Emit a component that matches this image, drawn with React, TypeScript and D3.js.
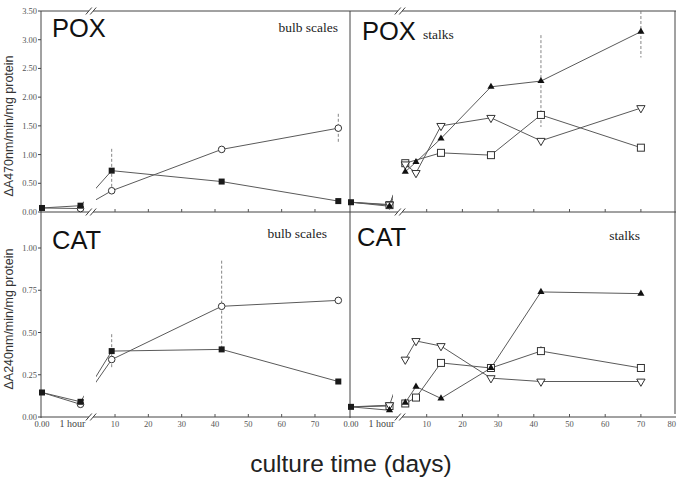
import React, { useEffect, useRef } from 'react'
import * as d3 from 'd3'

const W = 677
const H = 480

// axis labels
const preLabels = ['0.00', '1 hour']
const dayTicksLeft = [10, 20, 30, 40, 50, 60, 70]
const dayTicksRight = [10, 20, 30, 40, 50, 60, 70, 80]
const poxTicks = [0, 0.5, 1, 1.5, 2, 2.5, 3, 3.5]
const catTicks = [0, 0.25, 0.5, 0.75, 1]

// sampling days
const bulbDays = [9, 42, 77]
const stalkDays = [4, 7, 14, 28, 42, 70]

// POX, bulb scales  (pre = [0.00, 1 hour])
const poxBulbSquarePre = [0.07, 0.11]
const poxBulbSquare = [0.72, 0.53, 0.19]
const poxBulbSquareErr = [0.38, 0, 0]
const poxBulbCirclePre = [0.07, 0.06]
const poxBulbCircle = [0.37, 1.09, 1.46]
const poxBulbCircleErr = [0, 0, 0.25]

// POX, stalks
const poxStalkTrianglePre = [0.17, 0.10]
const poxStalkTriangle = [0.70, 0.87, 1.28, 2.18, 2.28, 3.14]
const poxStalkTriangleErr = [0, 0, 0, 0, 0.8, 0.45]
const poxStalkVPre = [0.17, 0.13]
const poxStalkV = [0.83, 0.68, 1.50, 1.64, 1.24, 1.81]
const poxStalkSquarePre = [0.17, 0.12]
const poxStalkSquare = [0.85, null, 1.03, 0.99, 1.69, 1.12]

// CAT, bulb scales
const catBulbSquarePre = [0.145, 0.09]
const catBulbSquare = [0.39, 0.40, 0.21]
const catBulbSquareErr = [0.1, 0, 0]
const catBulbCirclePre = [0.145, 0.075]
const catBulbCircle = [0.34, 0.655, 0.69]
const catBulbCircleErr = [0, 0.27, 0]

// CAT, stalks
const catStalkTrianglePre = [0.06, 0.04]
const catStalkTriangle = [0.085, 0.18, 0.11, 0.29, 0.74, 0.73]
const catStalkSquarePre = [0.06, 0.065]
const catStalkSquare = [0.08, 0.115, 0.32, 0.29, 0.39, 0.29]
const catStalkSquareErr = [0, 0, 0, 0, 0.03, 0]
const catStalkVPre = [0.06, 0.07]
const catStalkV = [0.34, 0.45, 0.42, 0.23, 0.21, 0.21]

type Series = { pre: number[], values: (number | null)[], err?: number[], symbol: string }

const SANS = '"Liberation Sans", Arial, sans-serif'
const SERIF = '"Liberation Serif", "Times New Roman", serif'
const LINE = '#5a5a5a'

const cols = [
  { axis: 41, right: 350, dayRange: [81.7, 348.3], ticks: dayTicksLeft },
  { axis: 350, right: 675, dayRange: [391, 676.6], ticks: dayTicksRight }
]
const rows = [
  { top: 11, bottom: 212, y: d3.scaleLinear().domain([0, 3.5]).range([212, 11]), ticks: poxTicks, title: 'ΔA470nm/min/mg protein', titleY: 126 },
  { top: 212, bottom: 417, y: d3.scaleLinear().domain([0, 1]).range([417, 248]), ticks: catTicks, title: 'ΔA240nm/min/mg protein', titleY: 319 }
]

const panels = [
  {
    row: 0, col: 0, name: 'POX', days: bulbDays,
    series: [
      { pre: poxBulbCirclePre, values: poxBulbCircle, err: poxBulbCircleErr, symbol: 'circle' },
      { pre: poxBulbSquarePre, values: poxBulbSquare, err: poxBulbSquareErr, symbol: 'fsquare' }
    ]
  },
  {
    row: 0, col: 1, name: 'POX', days: stalkDays,
    series: [
      { pre: poxStalkSquarePre, values: poxStalkSquare, symbol: 'osquare' },
      { pre: poxStalkVPre, values: poxStalkV, symbol: 'vtri' },
      { pre: poxStalkTrianglePre, values: poxStalkTriangle, err: poxStalkTriangleErr, symbol: 'ftri' }
    ]
  },
  {
    row: 1, col: 0, name: 'CAT', days: bulbDays,
    series: [
      { pre: catBulbCirclePre, values: catBulbCircle, err: catBulbCircleErr, symbol: 'circle' },
      { pre: catBulbSquarePre, values: catBulbSquare, err: catBulbSquareErr, symbol: 'fsquare' }
    ]
  },
  {
    row: 1, col: 1, name: 'CAT', days: stalkDays,
    series: [
      { pre: catStalkSquarePre, values: catStalkSquare, err: catStalkSquareErr, symbol: 'osquare' },
      { pre: catStalkVPre, values: catStalkV, symbol: 'vtri' },
      { pre: catStalkTrianglePre, values: catStalkTriangle, symbol: 'ftri' }
    ]
  }
]

function drawMarker (g: any, kind: string, x: number, y: number) {
  if (kind === 'fsquare') {
    g.append('rect').attr('x', x - 3).attr('y', y - 3).attr('width', 6).attr('height', 6)
      .attr('fill', '#1a1a1a')
  } else if (kind === 'osquare') {
    g.append('rect').attr('x', x - 3.5).attr('y', y - 3.5).attr('width', 7).attr('height', 7)
      .attr('fill', 'white').attr('stroke', '#333').attr('stroke-width', 1)
  } else if (kind === 'circle') {
    g.append('circle').attr('cx', x).attr('cy', y).attr('r', 3.3)
      .attr('fill', 'white').attr('stroke', '#333').attr('stroke-width', 1)
  } else if (kind === 'ftri') {
    g.append('path').attr('d', d3.symbol(d3.symbolTriangle, 22)())
      .attr('transform', `translate(${x},${y})`).attr('fill', '#111')
  } else if (kind === 'vtri') {
    g.append('path').attr('d', d3.symbol(d3.symbolTriangle, 30)())
      .attr('transform', `translate(${x},${y}) rotate(180)`)
      .attr('fill', 'white').attr('stroke', '#333').attr('stroke-width', 1)
  }
}

function drawBreak (g: any, x: number, y: number) {
  g.append('rect').attr('x', x - 2).attr('y', y - 2).attr('width', 4).attr('height', 4).attr('fill', 'white')
  ;[-2.2, 2.2].forEach(dx => {
    g.append('line')
      .attr('x1', x + dx - 3).attr('y1', y + 3.5).attr('x2', x + dx + 3).attr('y2', y - 3.5)
      .attr('stroke', '#444').attr('stroke-width', 1)
  })
}

export default function App () {
  const ref = useRef<SVGSVGElement>(null)

  useEffect(() => {
    const svg = d3.select(ref.current)
    svg.selectAll('*').remove()
    svg.append('rect').attr('width', W).attr('height', H).attr('fill', 'white')

    const defs = svg.append('defs')
    const frame = svg.append('g')
    const plots = svg.append('g')

    // frame lines
    const hLines = [11, 212, 417]
    hLines.forEach(y => {
      frame.append('line').attr('x1', 41).attr('x2', 676).attr('y1', y).attr('y2', y)
        .attr('stroke', '#444').attr('stroke-width', 1)
    })
    ;[41, 350, 675].forEach(x => {
      frame.append('line').attr('x1', x).attr('x2', x).attr('y1', 11).attr('y2', x === 675 ? 414 : 418)
        .attr('stroke', '#444').attr('stroke-width', 1)
    })

    // y axes (left only)
    rows.forEach(r => {
      r.ticks.forEach(t => {
        const y = r.y(t)
        frame.append('line').attr('x1', 38).attr('x2', 41).attr('y1', y).attr('y2', y)
          .attr('stroke', '#444')
        frame.append('text').attr('x', 37).attr('y', y + 3)
          .attr('text-anchor', 'end').attr('font-family', SERIF).attr('font-size', 8.5)
          .attr('fill', '#555').text(d3.format('.2f')(t))
      })
      frame.append('text')
        .attr('transform', `translate(13,${r.titleY}) rotate(-90)`)
        .attr('text-anchor', 'middle').attr('font-family', SANS).attr('font-size', 12.5)
        .attr('fill', '#333').text(r.title)
    })

    // x axes
    cols.forEach((c, ci) => {
      const xDay = d3.scaleLinear().domain([0, 80]).range(c.dayRange)
      const xPre = d3.scaleLinear().domain([0, 1]).range([c.axis + 1, c.axis + 39.5])
      rows.forEach((r, ri) => {
        c.ticks.forEach(t => {
          const x = xDay(t)
          if (x > c.right - 1) return
          frame.append('line').attr('x1', x).attr('x2', x).attr('y1', r.bottom).attr('y2', r.bottom - 3)
            .attr('stroke', '#555')
        })
        drawBreak(frame, c.axis + 50, r.bottom)
        if (ri === 0) drawBreak(frame, c.axis + 50, r.top)
      })
      const yl = 427
      c.ticks.forEach(t => {
        // last label sits on the page edge, keep it inside
        const edge = xDay(t) + 6 > W
        frame.append('text').attr('x', edge ? W - 1 : xDay(t)).attr('y', yl)
          .attr('text-anchor', edge ? 'end' : 'middle').attr('font-family', SERIF).attr('font-size', 8.5)
          .attr('fill', '#555').text(t)
      })
      preLabels.forEach((l, i) => {
        frame.append('text').attr('x', i === 0 ? xPre(0) : xPre(1) - 8).attr('y', yl)
          .attr('text-anchor', 'middle').attr('font-family', SERIF)
          .attr('font-size', i === 0 ? 8.5 : 10).attr('fill', '#444').text(l)
      })

      // clip that hides the lines across the axis break
      const cp = defs.append('clipPath').attr('id', 'gap' + ci)
      cp.append('rect').attr('x', c.axis - 10).attr('y', 0).attr('width', 53).attr('height', H)
      cp.append('rect').attr('x', c.axis + 55).attr('y', 0).attr('width', c.right - c.axis).attr('height', H)
    })

    // panels
    panels.forEach(p => {
      const c = cols[p.col]
      const r = rows[p.row]
      const xDay = d3.scaleLinear().domain([0, 80]).range(c.dayRange)
      const xPre = d3.scaleLinear().domain([0, 1]).range([c.axis + 1, c.axis + 39.5])
      const y = r.y

      const lineG = plots.append('g').attr('clip-path', `url(#gap${p.col})`)
      const errG = plots.append('g')
      const markG = plots.append('g')

      p.series.forEach((s: Series) => {
        const pts: [number, number][] = []
        s.pre.forEach((v, i) => pts.push([xPre(i), y(v)]))
        s.values.forEach((v, i) => { if (v != null) pts.push([xDay(p.days[i]), y(v)]) })
        lineG.append('path').attr('d', d3.line()(pts))
          .attr('fill', 'none').attr('stroke', LINE).attr('stroke-width', 1)

        if (s.err) {
          s.err.forEach((e, i) => {
            const v = s.values[i]
            if (!e || v == null) return
            const x = xDay(p.days[i])
            errG.append('line').attr('x1', x).attr('x2', x)
              .attr('y1', y(Math.min(v + e, r.y.domain()[1]))).attr('y2', y(v - e))
              .attr('stroke', '#777').attr('stroke-width', 0.9).attr('stroke-dasharray', '3,2')
          })
        }
      })
      p.series.forEach((s: Series) => {
        drawMarker(markG, s.symbol, xPre(1), y(s.pre[1]))
        s.values.forEach((v, i) => { if (v != null) drawMarker(markG, s.symbol, xDay(p.days[i]), y(v)) })
      })
      // starting material, shared by all series
      drawMarker(markG, 'fsquare', xPre(0), y(p.series[0].pre[0]))
    })

    // panel labels
    const big = (x: number, yy: number, t: string) => svg.append('text').attr('x', x).attr('y', yy)
      .attr('font-family', SANS).attr('font-size', 25.5).attr('fill', '#111').text(t)
    const small = (x: number, yy: number, t: string, anchor: string) => svg.append('text').attr('x', x).attr('y', yy)
      .attr('text-anchor', anchor).attr('font-family', SERIF).attr('font-size', 13.5).attr('fill', '#222').text(t)
    big(52, 37, 'POX')
    big(362, 40, 'POX')
    big(52, 249, 'CAT')
    big(357, 246, 'CAT')
    small(338, 32, 'bulb scales', 'end')
    small(423, 39, 'stalks', 'start')
    small(327, 238, 'bulb scales', 'end')
    small(640, 240, 'stalks', 'end')

    svg.append('text').attr('x', 351).attr('y', 472).attr('text-anchor', 'middle')
      .attr('font-family', SANS).attr('font-size', 24.5).attr('fill', '#222')
      .text('culture time (days)')
  }, [])

  return (
    <svg ref={ref} width={W} height={H} style={{ position: 'absolute', left: 0, top: 0 }} />
  )
}
